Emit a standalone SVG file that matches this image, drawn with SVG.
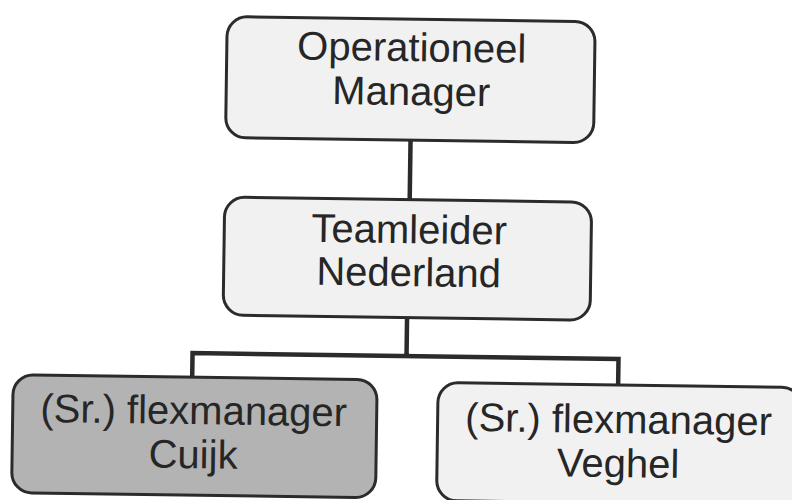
<svg xmlns="http://www.w3.org/2000/svg" width="792" height="500" viewBox="0 0 792 500">
<style>
.box{fill:#f1f1f1;stroke:#2b2b2b;stroke-width:3}
.dark{fill:#b3b3b3}
.lbl{font-family:"Liberation Sans",Arial,sans-serif;font-size:40px;fill:#262626;text-anchor:middle}
.conn{fill:none;stroke:#2b2b2b;stroke-width:4.5}
</style>
<rect width="792" height="500" fill="#ffffff"/>
<g transform="rotate(0.8 400 250)">
<g id="connectors">
<path class="conn" d="M409 140 V199"/>
<path class="conn" d="M408 318 V356 M194 380 V356 H620 V382"/>
</g>
<g id="n-operationeel">
<rect class="box" x="224" y="19" width="368" height="121" rx="20"/>
<text class="lbl" x="409" y="61">Operationeel</text>
<text class="lbl" x="409" y="105">Manager</text>
</g>
<g id="n-teamleider">
<rect class="box" x="224" y="199.5" width="367" height="118" rx="20"/>
<text class="lbl" x="409" y="243">Teamleider</text>
<text class="lbl" x="409" y="286">Nederland</text>
</g>
<g id="n-cuijk">
<rect class="box dark" x="15" y="380" width="364" height="118" rx="20"/>
<text class="lbl" x="196" y="427">(Sr.) flexmanager</text>
<text class="lbl" x="196" y="471">Cuijk</text>
</g>
<g id="n-veghel">
<rect class="box" x="440" y="382" width="364" height="118" rx="20"/>
<text class="lbl" x="621" y="430">(Sr.) flexmanager</text>
<text class="lbl" x="621" y="474">Veghel</text>
</g>
</g>
</svg>
